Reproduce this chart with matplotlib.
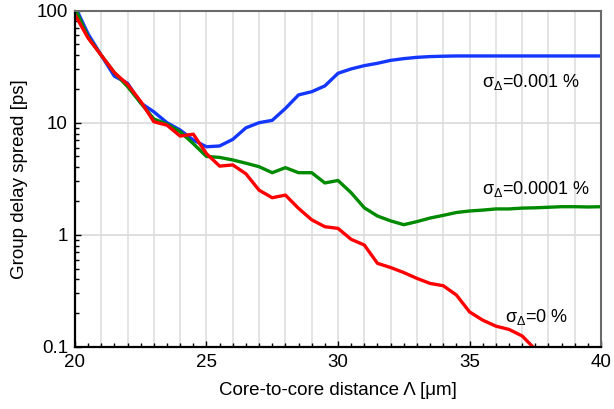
import numpy as np
import matplotlib
matplotlib.use("Agg")
import matplotlib.pyplot as plt
from matplotlib.ticker import FixedLocator, MultipleLocator, LogLocator, NullFormatter

plt.rcParams['font.family'] = ['Liberation Sans', 'DejaVu Sans']
plt.rcParams['mathtext.fontset'] = 'custom'
plt.rcParams['mathtext.rm'] = 'Liberation Sans'
plt.rcParams['mathtext.it'] = 'Liberation Sans:italic'
plt.rcParams['mathtext.sf'] = 'Liberation Sans'

# core-to-core distance, 0.5 um steps
distance = [20 + 0.5 * i for i in range(41)]

spread_001 = [110, 62, 40, 26, 22.5, 15, 12.5, 10, 8.6, 7.0,
              6.1, 6.2, 7.1, 9.0, 10.0, 10.5, 13.4, 17.7, 18.9, 21.3,
              27.6, 30.2, 32.3, 33.9, 36.0, 37.3, 38.3, 38.9, 39.2, 39.4,
              39.4, 39.4, 39.4, 39.4, 39.4, 39.4, 39.4, 39.4, 39.4, 39.4, 39.4]

spread_0001 = [105, 58, 40, 28, 21, 15, 10.8, 9.7, 8.3, 6.5,
               5.0, 4.9, 4.65, 4.35, 4.05, 3.58, 3.97, 3.58, 3.58, 2.9,
               3.05, 2.37, 1.74, 1.47, 1.33, 1.23, 1.31, 1.41, 1.49, 1.58,
               1.63, 1.66, 1.70, 1.70, 1.73, 1.74, 1.76, 1.78, 1.78, 1.77, 1.78]

spread_0 = [92, 57, 40, 28, 22, 15.5, 10.2, 9.5, 7.6, 7.9,
            5.3, 4.1, 4.2, 3.5, 2.5, 2.14, 2.26, 1.72, 1.36, 1.18,
            1.14, 0.91, 0.81, 0.556, 0.51, 0.46, 0.408, 0.368, 0.351, 0.29,
            0.205, 0.173, 0.153, 0.143, 0.125, 0.095]

labels = [r'σ$_\mathrm{Δ}$=0.001 %', r'σ$_\mathrm{Δ}$=0.0001 %', r'σ$_\mathrm{Δ}$=0 %']

fig = plt.figure(figsize=(6.14, 4.09), dpi=100)
ax = fig.add_axes([0.122, 0.152, 0.857, 0.822])

for xv in range(21, 40):
    ax.axvline(xv, color="#dcdcdc", lw=1.1, zorder=0)
for yv in [1, 10]:
    ax.axhline(yv, color="#dcdcdc", lw=1.3, zorder=0)

ax.plot(distance, spread_001, color="#1437ff", lw=2.4)
ax.plot(distance, spread_0001, color="#008a00", lw=2.4)
ax.plot(distance[:len(spread_0)], spread_0, color="#ff0000", lw=2.4)

ax.set_yscale("log")
ax.set_xlim(20, 40)
ax.set_ylim(0.1, 100)
ax.xaxis.set_major_locator(MultipleLocator(5))
ax.xaxis.set_minor_locator(MultipleLocator(0.5))
ax.yaxis.set_major_locator(FixedLocator([0.1, 1, 10, 100]))
ax.set_yticklabels(["0.1", "1", "10", "100"])
ax.yaxis.set_minor_locator(LogLocator(base=10, subs=np.arange(2, 10)))
ax.yaxis.set_minor_formatter(NullFormatter())
ax.tick_params(which="both", direction="in", labelsize=13.5, width=1, color="black")
ax.tick_params(which="major", length=4, pad=5)
ax.tick_params(which="minor", length=3)

for s in ["left", "bottom"]:
    ax.spines[s].set_color("black")
    ax.spines[s].set_linewidth(1.6)
for s in ["top", "right"]:
    ax.spines[s].set_color("#6a6a6a")
    ax.spines[s].set_linewidth(1.5)

ax.set_xlabel("Core-to-core distance Λ [μm]", fontsize=13.5, labelpad=8)
ax.set_ylabel("Group delay spread [ps]", fontsize=13.5, labelpad=6)

ax.text(35.46, 23.2, labels[0], fontsize=13, va="center")
ax.text(35.46, 2.58, labels[1], fontsize=13, va="center")
ax.text(36.35, 0.184, labels[2], fontsize=13, va="center")

fig.savefig("out.png", dpi=100)
